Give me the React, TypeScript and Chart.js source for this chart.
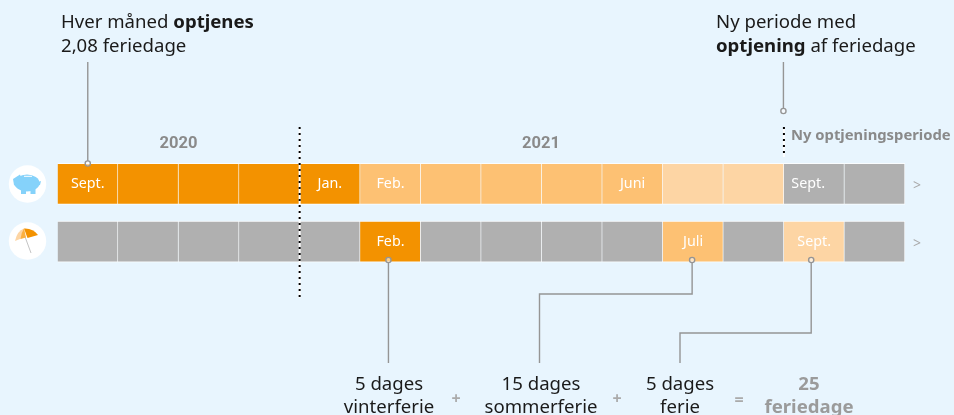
import React, { useEffect, useRef } from "react";
import { Chart, registerables } from "chart.js";

Chart.register(...registerables);

const rows = ["Optjening", "Ferie"];
const ORANGE = "#F39200", MID = "#FDC173", LIGHT = "#FDD5A4", GRAY = "#B0B0B0";
const BG = "#E8F5FE";
const earnColours = [ORANGE, ORANGE, ORANGE, ORANGE, ORANGE, MID, MID, MID, MID, MID, LIGHT, LIGHT, GRAY, GRAY];
const spendColours = [GRAY, GRAY, GRAY, GRAY, GRAY, ORANGE, GRAY, GRAY, GRAY, GRAY, MID, GRAY, LIGHT, GRAY];
const earnLabels = ["Sept.", "", "", "", "Jan.", "Feb.", "", "", "", "Juni", "", "", "Sept.", ""];
const spendLabels = ["", "", "", "", "", "Feb.", "", "", "", "", "Juli", "", "Sept.", ""];
const FONT = '"Noto Sans", sans-serif';

const overlay = {
  id: "overlay",
  afterDatasetsDraw(chart: any) {
    const { ctx, scales } = chart;
    const x = scales.x, y = scales.y;
    const ty = (t: string, px: number, py: number, font: string, color: string, align: CanvasTextAlign = "center") => {
      ctx.font = font; ctx.fillStyle = color; ctx.textAlign = align; ctx.textBaseline = "alphabetic";
      ctx.fillText(t, px, py);
    };
    // cell labels
    rows.forEach((r, ri) => {
      const labels = ri === 0 ? earnLabels : spendLabels;
      labels.forEach((l, i) => {
        if (!l) return;
        const shift = ri === 0 && i === 12 ? -6 : 0;
        ctx.font = `14.3px ${FONT}`; ctx.fillStyle = "#fff"; ctx.textAlign = "center"; ctx.textBaseline = "middle";
        ctx.fillText(l, x.getPixelForValue(i + 0.5) + shift, y.getPixelForValue(ri) + 0.5);
      });
      ctx.font = `14px ${FONT}`; ctx.fillStyle = "#AAAAAA"; ctx.textAlign = "center"; ctx.textBaseline = "middle";
      ctx.fillText(">", x.getPixelForValue(14) + 12, y.getPixelForValue(ri) + 2);
    });
    // dotted dividers
    const dots = (px: number, y0: number, y1: number) => {
      ctx.save();
      ctx.strokeStyle = "#fff"; ctx.lineWidth = 2;
      ctx.beginPath(); ctx.moveTo(px, y0); ctx.lineTo(px, y1); ctx.stroke();
      ctx.strokeStyle = "#000"; ctx.lineWidth = 2; ctx.setLineDash([2, 4]);
      ctx.beginPath(); ctx.moveTo(px, y0); ctx.lineTo(px, y1); ctx.stroke(); ctx.restore();
    };
    dots(x.getPixelForValue(4), 127, 298);
    dots(x.getPixelForValue(12), 127, 157);
    // leaders
    const lead = (pts: number[][], circle: number[]) => {
      ctx.save(); ctx.strokeStyle = "#959595"; ctx.lineWidth = 1.4; ctx.setLineDash([]);
      ctx.beginPath(); pts.forEach((p, i) => i ? ctx.lineTo(p[0], p[1]) : ctx.moveTo(p[0], p[1])); ctx.stroke();
      ctx.beginPath(); ctx.arc(circle[0], circle[1], 2.6, 0, Math.PI * 2);
      ctx.fillStyle = "rgba(255,255,255,0.55)"; ctx.fill(); ctx.stroke(); ctx.restore();
    };
    const cx0 = x.getPixelForValue(0.5), cx5 = x.getPixelForValue(5.5), cx10 = x.getPixelForValue(10.5), cx12 = x.getPixelForValue(12.5), nx = x.getPixelForValue(12);
    lead([[cx0, 62], [cx0, 161]], [cx0, 163.5]);
    lead([[nx - 0.5, 62], [nx - 0.5, 108]], [nx - 0.5, 111]);
    lead([[cx5 - 2, 262], [cx5 - 2, 363]], [cx5 - 2, 260]);
    lead([[cx10 - 1, 262], [cx10 - 1, 294], [539.5, 294], [539.5, 363]], [cx10 - 1, 260]);
    lead([[cx12 - 3, 262], [cx12 - 3, 333], [680, 333], [680, 363]], [cx12 - 3, 260]);

    // icons
    const disc = (cy: number) => { ctx.beginPath(); ctx.arc(27.5, cy, 18.7, 0, Math.PI * 2); ctx.fillStyle = "#fff"; ctx.fill(); };
    disc(184); disc(241);
    // piggy
    ctx.fillStyle = "#85D2FA";
    ctx.beginPath(); ctx.ellipse(27, 183, 12.5, 8.6, 0, 0, Math.PI * 2); ctx.fill();
    ctx.fillRect(21, 187, 5, 7); ctx.fillRect(30.5, 187, 5, 7);
    ctx.beginPath(); ctx.moveTo(13, 179); ctx.lineTo(20, 174.5); ctx.lineTo(22, 180); ctx.lineTo(18, 188); ctx.lineTo(14, 185); ctx.closePath(); ctx.fill();
    ctx.beginPath(); ctx.moveTo(38, 182); ctx.lineTo(41, 181); ctx.lineTo(40, 185); ctx.lineTo(37, 186); ctx.closePath(); ctx.fill();
    ctx.fillStyle = "#fff"; ctx.fillRect(24, 175.8, 8, 1);
    // umbrella
    ctx.strokeStyle = "#C4C4C4"; ctx.lineWidth = 1;
    ctx.beginPath(); ctx.moveTo(24, 234); ctx.lineTo(31, 253); ctx.stroke();
    ctx.fillStyle = "#FDD5A4";
    ctx.beginPath(); ctx.moveTo(15, 241); ctx.quadraticCurveTo(17, 231, 24, 228.5); ctx.lineTo(25, 237); ctx.closePath(); ctx.fill();
    ctx.fillStyle = "#FBB040";
    ctx.beginPath(); ctx.moveTo(24, 228.5); ctx.quadraticCurveTo(21, 233, 20.5, 239); ctx.lineTo(26, 237.5); ctx.closePath(); ctx.fill();
    ctx.fillStyle = ORANGE;
    ctx.beginPath(); ctx.moveTo(24, 228.5); ctx.quadraticCurveTo(33, 228, 38, 235); ctx.lineTo(27.5, 238); ctx.closePath(); ctx.fill();

    // annotations
    const dark = "#1a1a1a", grayText = "#8A8A8A", gray2 = "#9B9B9B";
    const r = `18.6px ${FONT}`, b = `bold 18.6px ${FONT}`;
    ty("Hver måned ", 61, 28, r, dark, "left");
    const w = ctx.measureText("Hver måned ").width;
    ty("optjenes", 61 + w, 28, b, dark, "left");
    ty("2,08 feriedage", 61, 52, r, dark, "left");
    ty("Ny periode med", 716, 28, r, dark, "left");
    ty("optjening", 716, 52, b, dark, "left");
    const w2 = ctx.measureText("optjening").width;
    ty(" af feriedage", 716 + w2, 52, r, dark, "left");
    ty("2020", 178.5, 148, `bold 16.5px Roboto, sans-serif`, grayText);
    ty("2021", 541, 148, `bold 16.5px Roboto, sans-serif`, grayText);
    ty("Ny optjeningsperiode", 791, 140, `bold 14.8px ${FONT}`, grayText, "left");
    ty("5 dages", 389, 390, r, dark); ty("vinterferie", 389, 413, r, dark);
    ty("15 dages", 541, 390, r, dark); ty("sommerferie", 541, 413, r, dark);
    ty("5 dages", 680, 390, r, dark); ty("ferie", 680, 413, r, dark);
    ty("25", 809, 390, b, gray2); ty("feriedage", 809, 413, b, gray2);
    ty("+", 456, 404, `bold 16px ${FONT}`, "#AAAAAA");
    ty("+", 617, 404, `bold 16px ${FONT}`, "#AAAAAA");
    ty("=", 739, 405, `bold 16px ${FONT}`, "#AAAAAA");
  },
};

export default function App() {
  const ref = useRef<HTMLCanvasElement>(null);
  useEffect(() => {
    document.body.style.margin = "0";
    document.body.style.background = BG;
    const toBars = (row: string) => earnColours.map((_, i) => ({ x: [i, i + 1], y: row }));
    const chart = new Chart(ref.current!, {
      type: "bar",
      data: {
        labels: rows,
        datasets: [
          { data: toBars(rows[0]) as any, backgroundColor: earnColours, borderColor: "#FAFDFF", borderWidth: 1, barThickness: 41, grouped: false } as any,
          { data: toBars(rows[1]) as any, backgroundColor: spendColours, borderColor: "#FAFDFF", borderWidth: 1, barThickness: 41, grouped: false } as any,
        ],
      },
      options: {
        indexAxis: "y",
        animation: false,
        responsive: false,
        layout: { padding: { left: 57.5, right: 49, top: 155, bottom: 144.5 } },
        plugins: { legend: { display: false }, tooltip: { enabled: false } },
        scales: {
          x: { type: "linear", min: 0, max: 14, display: false },
          y: { type: "category", display: false },
        },
      },
      plugins: [overlay],
    });
    return () => chart.destroy();
  }, []);
  return <canvas ref={ref} width={954} height={415} style={{ display: "block", background: BG }} />;
}
